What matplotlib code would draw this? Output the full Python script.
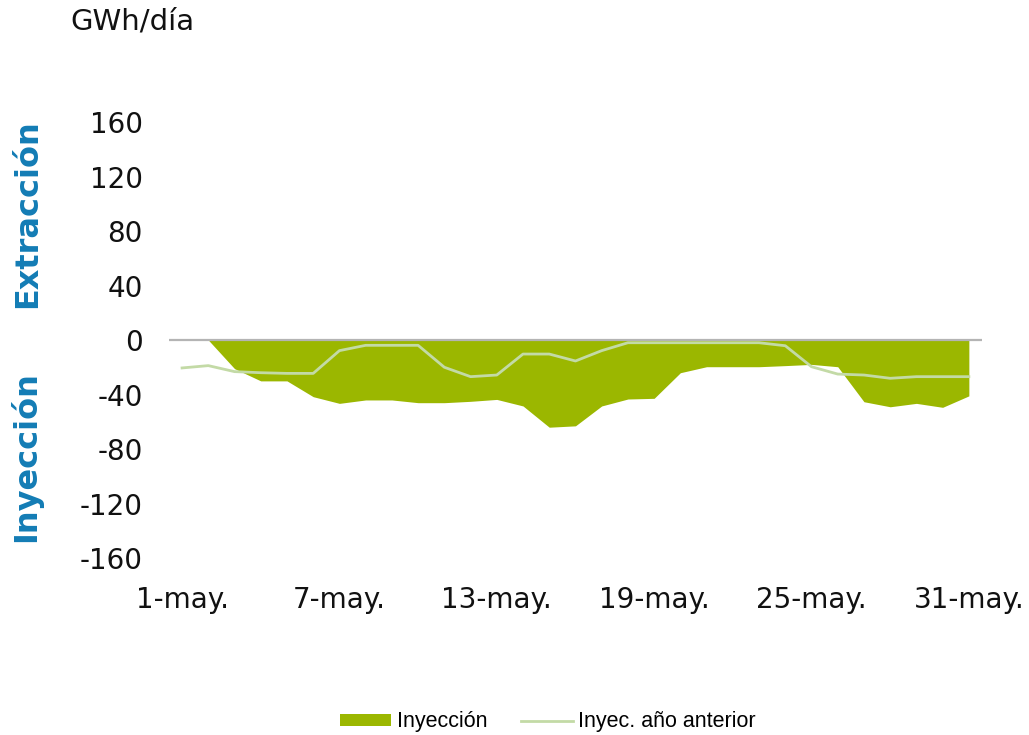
import numpy as np
import matplotlib
matplotlib.use("Agg")
import matplotlib.pyplot as plt
from matplotlib.patches import Patch
from matplotlib.lines import Line2D

plt.rcParams["axes.unicode_minus"] = False

days = np.arange(1, 32)
tick_days = [1, 7, 13, 19, 25, 31]
tick_labels = ["1-may.", "7-may.", "13-may.", "19-may.", "25-may.", "31-may."]

# GWh/día, negative = injection
inyeccion = [0, 0, -21, -30, -30, -41.6, -46.5, -44, -44, -46, -46, -45, -43.6, -48.4,
             -64, -63, -48.4, -43.3, -42.8, -24, -19.6, -19.6, -19.6, -18.8, -17.9,
             -19.6, -45.3, -49, -46.5, -49.4, -41]
inyec_anterior = [-20.5, -18.8, -23.2, -24, -24.5, -24.5, -7.8, -3.9, -3.9, -3.9, -20,
                  -26.9, -25.7, -10.3, -10.3, -15.4, -7.8, -2, -2, -2, -2, -2, -2,
                  -4.2, -19.6, -25, -25.7, -28.1, -26.9, -26.9, -26.9]

fill_color = "#9BB700"
line_color = "#C3DAA6"
blue = "#137CB5"

fig = plt.figure(figsize=(10.29, 7.35), dpi=100)
ax = fig.add_axes([0.1642, 0.2408, 0.7901, 0.5932])

ax.fill_between(days, inyeccion, 0, color=fill_color, linewidth=0)
ax.axhline(0, color="#B4B4B4", linewidth=1.6, zorder=2)
ax.plot(days, inyec_anterior, color=line_color, linewidth=2.0, zorder=3)

ax.set_xlim(0.5, 31.5)
ax.set_ylim(-160, 160)
ax.set_yticks(np.arange(-160, 161, 40))
ax.set_xticks(tick_days)
ax.set_xticklabels(tick_labels)
ax.tick_params(axis="both", length=0, labelsize=20, colors="#111111")
ax.tick_params(axis="y", pad=19)
ax.tick_params(axis="x", pad=20)
for s in ax.spines.values():
    s.set_visible(False)

fig.text(70 / 1029, 1 - 22 / 735, "GWh/día", fontsize=21, color="#111111", va="center", ha="left")
fig.text(28 / 1029, 1 - 214 / 735, "Extracción", fontsize=23, fontweight="bold",
         color=blue, rotation=90, ha="center", va="center")
fig.text(26 / 1029, 1 - 457 / 735, "Inyección", fontsize=23, fontweight="bold",
         color=blue, rotation=90, ha="center", va="center")

handles = [Patch(facecolor=fill_color, edgecolor="none"),
           Line2D([0], [0], color=line_color, linewidth=2.0)]
fig.legend(handles, ["Inyección", "Inyec. año anterior"], loc="center",
           bbox_to_anchor=(0.5325, 1 - 722 / 735), ncol=2, frameon=False,
           prop={"family": "Liberation Sans", "size": 15.5}, handlelength=2.4,
           handleheight=0.45, handletextpad=0.25, columnspacing=1.58)

fig.savefig("out.png", dpi=100)
